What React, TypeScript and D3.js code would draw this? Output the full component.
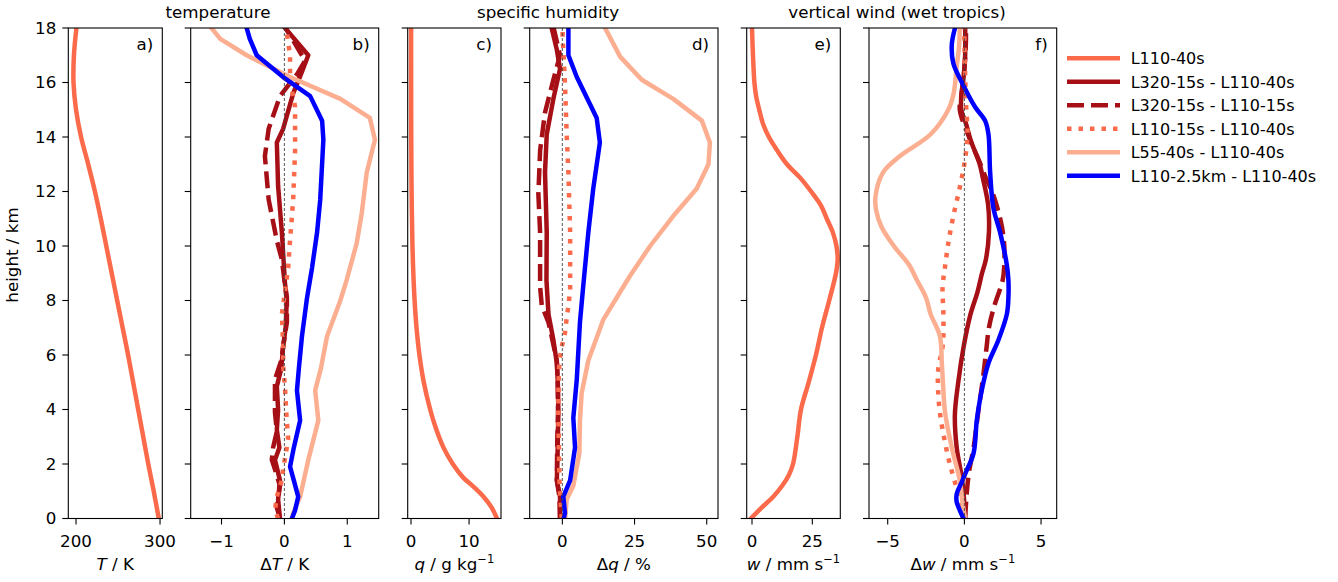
import React from "react";
import * as d3 from "d3";

// ---------- data (height km, value) ----------
const heightTicks = [0, 2, 4, 6, 8, 10, 12, 14, 16, 18];

const aT: [number, number][] = [[0,298.5],[1,292.5],[2,286],[3,280],[4,274],[5,268],[6,262],[7,255.5],[8,249],[9,242.5],[10,236],[11,229.5],[12,222.5],[13,214.5],[14,206],[15,200],[16,197],[17,197.5],[18,200.5]];

const bSolid: [number, number][] = [[0,-0.07],[0.7,-0.1],[1.4,-0.07],[2.15,-0.15],[2.6,-0.08],[3.25,-0.12],[4.0,-0.1],[4.85,-0.12],[5.5,-0.05],[6.3,-0.02],[7,0.02],[8.1,0.04],[8.6,0.01],[10.5,-0.04],[12.2,-0.1],[13.8,-0.12],[14.3,-0.02],[15.6,0.14],[16.4,0.28],[17,0.38],[18,0.01]];
const bDashed: [number, number][] = [[0,-0.07],[0.4,-0.12],[1.2,-0.07],[1.8,-0.15],[2.15,-0.2],[2.6,-0.18],[3.2,-0.12],[3.9,-0.15],[5.1,-0.15],[5.8,-0.05],[6.3,-0.02],[7.2,0.04],[8,0.04],[9.5,-0.04],[10.2,-0.12],[11.7,-0.25],[13.3,-0.31],[14.3,-0.25],[15.5,-0.07],[16.3,0.2],[16.8,0.33],[17.5,0.15],[18,0.02]];
const bDotted: [number, number][] = [[0,-0.1],[0.3,-0.15],[0.8,-0.12],[1.4,-0.04],[1.8,-0.02],[2.9,0.06],[3.9,0.03],[4.8,0.01],[5.6,-0.02],[6.4,-0.02],[7.5,-0.04],[8.5,0.02],[9.2,0.06],[10.2,0.09],[11.7,0.14],[13.5,0.17],[15.1,0.17],[16.1,0.09],[17,0.09],[17.8,0.04],[18,0.03]];
const bSalmon: [number, number][] = [[0,0.12],[0.2,0.14],[0.8,0.25],[2.15,0.38],[3.6,0.54],[4.7,0.49],[5.5,0.58],[6.7,0.68],[8,0.89],[8.75,0.99],[10.1,1.15],[11.2,1.23],[12.7,1.31],[13.9,1.44],[14.7,1.36],[15.4,0.89],[16.2,0.09],[17.0,-0.6],[17.6,-1.02],[18,-1.16]];
const bBlue: [number, number][] = [[0,0.12],[0.3,0.17],[0.8,0.22],[1.4,0.15],[1.9,0.09],[2.6,0.15],[3.6,0.25],[4.7,0.2],[5.5,0.23],[6.7,0.28],[8.1,0.36],[9.2,0.44],[10.5,0.52],[11.7,0.57],[13.9,0.62],[14.6,0.6],[15.5,0.41],[16.2,-0.02],[17,-0.44],[17.6,-0.55],[18,-0.6]];

const cQ: [number, number][] = [[0,14.8],[0.4,13.9],[0.8,12.5],[1.2,10.6],[1.5,9.0],[2,7.2],[2.6,5.6],[3.3,4.3],[4,3.3],[5,2.2],[6,1.45],[7,0.95],[8,0.62],[9,0.4],[10,0.25],[12,0.1],[14,0.04],[16,0.02],[18,0.02]];

const dSolid: [number, number][] = [[0,-0.8],[0.8,-0.8],[1.4,-1.9],[2.6,-1.6],[3.9,-1.4],[4.8,-1.5],[5.7,-1.9],[6.55,-3.1],[7.5,-4.8],[8.75,-5.5],[10.5,-5.4],[12.7,-6.0],[14.1,-5.4],[15.4,-3.1],[16.5,-0.8],[17.2,-1.9],[18,-3.7]];
const dDashed: [number, number][] = [[0,-0.8],[0.8,-1.0],[1.4,-1.9],[2.6,-1.8],[3.9,-1.5],[5.0,-1.6],[5.8,-1.9],[7.2,-4.8],[7.8,-7.1],[8.5,-7.7],[9,-7.7],[10.5,-7.7],[11.9,-8.3],[13.5,-7.7],[14.9,-6.0],[16.1,-3.1],[17,-0.8],[18,-3]];
const dDotted: [number, number][] = [[0,-0.2],[0.6,-0.6],[1.4,-1.0],[2.6,-1.2],[3.9,-1.4],[5.0,-1.3],[5.8,-1.0],[6.3,-0.2],[6.8,0.9],[7.35,1.5],[7.8,2.1],[8.4,2.7],[10.5,2.7],[12.7,2.1],[14.1,1.5],[16,0.9],[17.7,0.1],[18,0.1]];
const dSalmon: [number, number][] = [[0,1.0],[0.7,1.5],[1.2,3.8],[2.4,5.9],[3.6,6.1],[4.6,6.7],[5.8,9.0],[7.3,14.2],[8.1,18.8],[8.9,23.4],[10,30.4],[11.1,38.4],[12.1,46.5],[13,50.6],[13.8,51.1],[14.6,48.3],[15.4,38.4],[16.1,27.5],[16.95,20],[18,14.8]];
const dBlue: [number, number][] = [[0,0.5],[0.2,0.9],[0.8,0.35],[1.4,2.7],[2.6,4.4],[3.7,3.8],[5.1,5.0],[7.2,6.1],[8.6,7.3],[10.5,9.0],[12.1,10.7],[13.8,13.0],[14.7,11.9],[16.2,5.0],[17,2.1],[18,2.1]];

const eW: [number, number][] = [[0,-0.5],[0.4,4],[0.8,8.8],[1.2,12.5],[1.6,15.3],[2,17],[3,18.8],[4,20.3],[5,23.5],[6,26.5],[7,29],[8,32],[9,34.8],[9.5,35.5],[10,35],[10.5,33.5],[11,31],[11.5,28.5],[12,24.5],[12.5,20],[13,14.5],[13.5,10.5],[14,7],[14.5,4.5],[15,3],[15.5,1.7],[16,1],[17,0.4],[18,0]];

const fSolid: [number, number][] = [[0,0.05],[0.9,-0.05],[1.6,-0.2],[2.6,-0.5],[3.8,-0.62],[5,-0.4],[6.3,-0.05],[7.5,0.4],[8.3,0.85],[9,1.15],[9.5,1.4],[10.5,1.6],[11.5,1.55],[12.5,1.2],[13,1.0],[13.9,0.4],[14.5,0.1],[15,-0.2],[15.5,-0.2],[16.2,-0.05],[17,0.05],[18,0.05]];
const fDashed: [number, number][] = [[0,0.05],[0.9,0.15],[1.7,0.3],[2.6,0.6],[3.9,0.9],[5.1,1.2],[6.3,1.45],[7,1.6],[7.8,1.95],[8.75,2.5],[9.3,2.6],[10,2.6],[10.7,2.45],[11.5,2.1],[12,1.8],[12.5,1.4],[13,1.05],[14,0.3],[15,-0.3],[15.5,-0.2],[16.5,0],[17.5,0.1],[18,0.1]];
const fDotted: [number, number][] = [[0,-0.1],[0.6,-0.3],[1.2,-0.55],[2,-0.95],[2.9,-1.3],[3.9,-1.6],[4.8,-1.72],[5.5,-1.7],[6.4,-1.4],[7.5,-1.37],[8.5,-1.42],[9.2,-1.27],[10.1,-1.05],[11.1,-0.72],[12.2,-0.28],[13.2,0.05],[14.1,0.2],[15.3,0.1],[16.3,0.05],[17.5,0],[18,0]];
const fSalmon: [number, number][] = [[0,0.05],[0.5,-0.1],[1.4,-0.3],[2.6,-0.82],[3.9,-1.26],[5,-1.4],[5.7,-1.47],[6.7,-1.6],[7.5,-2.2],[8.1,-2.5],[8.75,-3.1],[9.3,-3.6],[10,-4.6],[10.7,-5.4],[11.3,-5.75],[11.8,-5.8],[12.7,-5.3],[13.3,-4.2],[14.1,-2.2],[15,-1.05],[15.6,-0.7],[16.6,-0.5],[17.3,-0.35],[18,-0.3]];
const fBlue: [number, number][] = [[0,-0.05],[0.3,-0.3],[0.6,-0.5],[0.9,-0.5],[1.3,-0.2],[1.7,0.1],[2.4,0.6],[3.6,0.81],[4.7,1.13],[5.7,1.57],[6.55,2.22],[7.5,2.77],[8.1,2.87],[8.75,2.87],[9.3,2.77],[10.5,2.33],[11.4,1.89],[12.7,1.68],[14.1,1.57],[14.6,1.35],[15.1,0.7],[15.9,-0.07],[16.7,-0.72],[17.4,-0.82],[18,-0.61]];

const legendLabels = ["L110-40s", "L320-15s - L110-40s", "L320-15s - L110-15s", "L110-15s - L110-40s", "L55-40s - L110-40s", "L110-2.5km - L110-40s"];

// ---------- styles ----------
const C_BASE = "#fb6a4a";
const C_DARK = "#a50f15";
const C_LIGHT = "#fcae91";
const C_BLUE = "#0000ff";
const LW = 4.5;
const styles = [
  { color: C_BASE, dash: undefined as string | undefined },
  { color: C_DARK, dash: undefined },
  { color: C_DARK, dash: "17,7" },
  { color: C_BASE, dash: "4.5,7" },
  { color: C_LIGHT, dash: undefined },
  { color: C_BLUE, dash: undefined },
];

const FONT = "DejaVu Sans, sans-serif";
const TOP = 28;
const BOTTOM = 518.5;
const yScale = d3.scaleLinear().domain([0, 18]).range([BOTTOM, TOP]);

type Series = { data: [number, number][]; style: number };

type PanelProps = {
  left: number;
  right: number;
  domain: [number, number];
  ticks: number[];
  series: Series[];
  zero?: boolean;
  label: string;
  xlabel: React.ReactNode;
  yLabels?: boolean;
  smooth?: boolean;
};

const fmt = (v: number) => (v < 0 ? "\u2212" + Math.abs(v) : String(v));

function Panel(p: PanelProps) {
  const x = d3.scaleLinear().domain(p.domain).range([p.left, p.right]);
  const line = d3
    .line<[number, number]>()
    .x((d) => x(d[1]))
    .y((d) => yScale(d[0]))
    .curve(p.smooth ? d3.curveCatmullRom.alpha(0.5) : d3.curveLinear);
  const clipId = "clip" + p.label.replace(")", "");
  return (
    <g>
      <defs>
        <clipPath id={clipId}>
          <rect x={p.left} y={TOP} width={p.right - p.left} height={BOTTOM - TOP} />
        </clipPath>
      </defs>
      <g clipPath={`url(#${clipId})`}>
        {p.series.map((s, i) => (
          <path
            key={i}
            d={line(s.data) || ""}
            fill="none"
            stroke={styles[s.style].color}
            strokeWidth={LW}
            strokeDasharray={styles[s.style].dash}
            strokeLinejoin="round"
            strokeLinecap={styles[s.style].dash ? "butt" : "square"}
          />
        ))}
        {p.zero && (
          <line x1={x(0)} x2={x(0)} y1={TOP} y2={BOTTOM} stroke="#444" strokeWidth={0.9} strokeDasharray="3,2" />
        )}
      </g>
      <rect x={p.left} y={TOP} width={p.right - p.left} height={BOTTOM - TOP} fill="none" stroke="#000" strokeWidth={1.1} />
      {heightTicks.map((h) => (
        <g key={h}>
          <line x1={p.left - 6} x2={p.left} y1={yScale(h)} y2={yScale(h)} stroke="#000" strokeWidth={1.1} />
          {p.yLabels && (
            <text x={p.left - 12} y={yScale(h)} dy="0.35em" textAnchor="end" fontSize={16.7} fontFamily={FONT} fill="#000">
              {h}
            </text>
          )}
        </g>
      ))}
      {p.ticks.map((t) => (
        <g key={t}>
          <line x1={x(t)} x2={x(t)} y1={BOTTOM} y2={BOTTOM + 6} stroke="#000" strokeWidth={1.1} />
          <text x={x(t)} y={547} textAnchor="middle" fontSize={16.7} fontFamily={FONT} fill="#000">
            {fmt(t)}
          </text>
        </g>
      ))}
      <text x={p.right - 9} y={50} textAnchor="end" fontSize={16.7} fontFamily={FONT} fill="#000">
        {p.label}
      </text>
      <text x={(p.left + p.right) / 2} y={570} textAnchor="middle" fontSize={16.7} fontFamily={FONT} fill="#000">
        {p.xlabel}
      </text>
    </g>
  );
}

const it = (s: string) => <tspan fontStyle="italic">{s}</tspan>;
const sup = (s: string) => (
  <tspan dy={-7} fontSize={11.5}>{s}</tspan>
);

export default function App() {
  const diff = (s1: [number, number][], s2: [number, number][], s3: [number, number][], s4: [number, number][], s5: [number, number][]): Series[] => [
    { data: s1, style: 1 },
    { data: s2, style: 2 },
    { data: s3, style: 3 },
    { data: s4, style: 4 },
    { data: s5, style: 5 },
  ];
  return (
    <svg width={1338} height={582} style={{ position: "absolute", left: 0, top: 0, background: "#fff" }}>
      <text x={218} y={18} textAnchor="middle" fontSize={16.7} fontFamily={FONT}>temperature</text>
      <text x={548} y={18} textAnchor="middle" fontSize={16.7} fontFamily={FONT}>specific humidity</text>
      <text x={897} y={18} textAnchor="middle" fontSize={16.7} fontFamily={FONT}>vertical wind (wet tropics)</text>
      <text transform={`translate(18,255) rotate(-90)`} textAnchor="middle" fontSize={16.7} fontFamily={FONT}>
        height / km
      </text>

      <Panel left={68.3} right={162.3} domain={[190.8, 302.7]} ticks={[200, 300]} series={[{ data: aT, style: 0 }]} label="a)" xlabel={<>{it("T")} / K</>} yLabels smooth />
      <Panel left={190.7} right={378.7} domain={[-1.49, 1.5]} ticks={[-1, 0, 1]} series={diff(bSolid, bDashed, bDotted, bSalmon, bBlue)} zero label="b)" xlabel={<>Δ{it("T")} / K</>} />
      <Panel left={407.7} right={501} domain={[-0.57, 15.5]} ticks={[0, 10]} series={[{ data: cQ, style: 0 }]} label="c)" xlabel={<>{it("q")} / g kg{sup("\u22121")}</>} smooth />
      <Panel left={529.7} right={718} domain={[-11.3, 53.9]} ticks={[0, 25, 50]} series={diff(dSolid, dDashed, dDotted, dSalmon, dBlue)} zero label="d)" xlabel={<>Δ{it("q")} / %</>} />
      <Panel left={746.7} right={840.3} domain={[-2.2, 36.6]} ticks={[0, 25]} series={[{ data: eW, style: 0 }]} label="e)" xlabel={<>{it("w")} / mm s{sup("\u22121")}</>} smooth />
      <Panel left={869} right={1056.7} domain={[-6.22, 6.02]} ticks={[-5, 0, 5]} series={diff(fSolid, fDashed, fDotted, fSalmon, fBlue)} zero label="f)" xlabel={<>Δ{it("w")} / mm s{sup("\u22121")}</>} smooth />

      {legendLabels.map((l, i) => {
        const y = 58.3 + i * 23.5;
        return (
          <g key={l}>
            <line x1={1067} x2={1120} y1={y} y2={y} stroke={styles[i].color} strokeWidth={LW} strokeDasharray={styles[i].dash} />
            <text x={1130.7} y={y} dy="0.36em" fontSize={16} fontFamily={FONT} fill="#000">{l}</text>
          </g>
        );
      })}
    </svg>
  );
}
